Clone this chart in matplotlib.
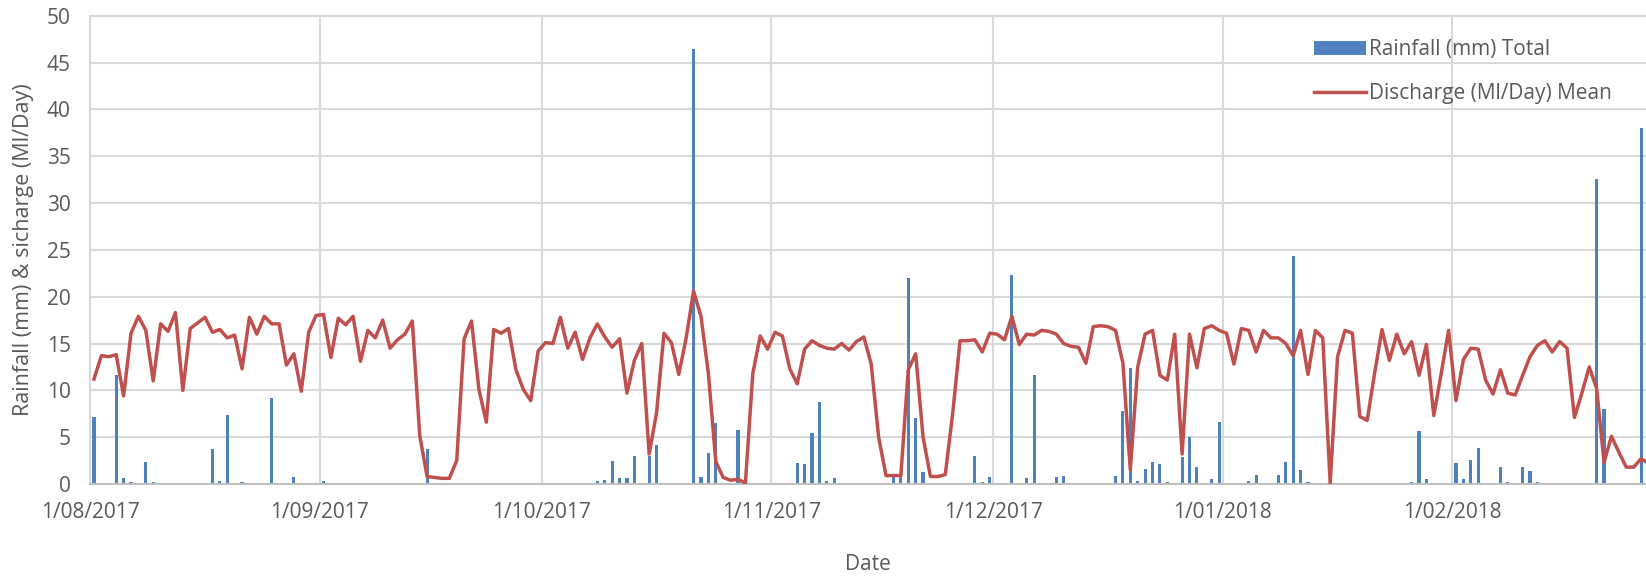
import matplotlib
matplotlib.use("Agg")
import matplotlib.pyplot as plt
import matplotlib.dates as mdates
import pandas as pd

# daily rainfall totals (mm), one list per month, Aug 2017 - Feb 2018
rain_aug = [7.2, 0, 0, 11.6, 0.6, 0.2, 0, 2.4, 0.2, 0, 0, 0, 0, 0, 0, 0,
            3.7, 0.3, 7.4, 0, 0.2, 0, 0, 0, 9.2, 0, 0, 0.7, 0, 0, 0]
rain_sep = [0.3, 0, 0, 0, 0, 0, 0, 0, 0, 0, 0, 0, 0, 0, 3.7,
            0, 0, 0, 0, 0, 0, 0, 0, 0, 0, 0, 0, 0, 0, 0]
rain_oct = [0, 0, 0, 0, 0, 0, 0, 0.3, 0.4, 2.5, 0.6, 0.6, 3.0, 0, 3.0, 4.2,
            0, 0, 0, 0, 46.4, 0.7, 3.3, 6.5, 0, 0, 5.8, 0, 0, 0, 0]
rain_nov = [0, 0, 0, 2.2, 2.1, 5.4, 8.8, 0.3, 0.6, 0, 0, 0, 0, 0, 0, 0,
            0.8, 0.8, 22.0, 7.0, 1.3, 0, 0, 0, 0, 0, 0, 3.0, 0.2, 0.7]
rain_dec = [0, 0, 22.3, 0, 0.6, 11.6, 0, 0, 0.7, 0.9, 0, 0, 0, 0, 0, 0,
            0.9, 7.8, 12.4, 0.3, 1.6, 2.4, 2.1, 0.2, 0, 2.9, 5.0, 1.8, 0, 0.5, 6.6]
rain_jan = [0, 0, 0, 0.3, 1.0, 0, 0, 1.0, 2.4, 24.3, 1.5, 0.2,
            0, 0, 0, 0, 0, 0, 0, 0, 0, 0, 0, 0, 0.1, 0.2, 5.7, 0.5, 0, 0, 0]
rain_feb = [2.2, 0.5, 2.6, 3.8, 0, 0, 1.8, 0.2, 0, 1.8, 1.4, 0.2,
            0, 0, 0, 0, 0, 0, 0, 32.6, 8.0, 0, 0, 0, 0, 38.0, 0]

# daily mean discharge (Ml/Day)
flow_aug = [11.2, 13.7, 13.6, 13.8, 9.4, 16.1, 17.9, 16.4, 11.0, 17.1, 16.3,
            18.3, 10.0, 16.6, 17.2, 17.8, 16.2, 16.5, 15.6, 15.9, 12.3, 17.8,
            16.0, 17.9, 17.1, 17.1, 12.7, 13.9, 9.9, 16.2, 18.0]
flow_sep = [18.1, 13.5, 17.7, 17.0, 17.9, 13.1, 16.4, 15.6, 17.5, 14.5, 15.4,
            16.0, 17.4, 5.2, 0.8, 0.7, 0.6, 0.6, 2.5, 15.5, 17.4, 10.1, 6.6,
            16.5, 16.1, 16.6, 12.2, 10.1, 8.9, 14.2]
flow_oct = [15.1, 15.0, 17.8, 14.5, 16.2, 13.3, 15.6, 17.1, 15.7, 14.6, 15.5,
            9.7, 13.2, 15.0, 3.2, 7.6, 16.1, 15.1, 11.7, 15.6, 20.6, 17.9,
            11.8, 2.4, 0.7, 0.4, 0.5, 0.1, 11.8, 15.8, 14.4]
flow_nov = [16.2, 15.8, 12.3, 10.7, 14.4, 15.3, 14.8, 14.5, 14.4, 15.0, 14.3,
            15.2, 15.7, 12.8, 5.0, 0.9, 0.9, 0.9, 12.2, 13.9, 5.0, 0.8, 0.8,
            1.0, 7.5, 15.3, 15.3, 15.4, 14.1, 16.1]
flow_dec = [16.0, 15.4, 17.9, 14.9, 16.0, 15.9, 16.4, 16.3, 16.0, 15.0, 14.7,
            14.6, 12.9, 16.8, 16.9, 16.8, 16.4, 12.9, 1.5, 12.5, 16.0, 16.4,
            11.6, 11.1, 16.0, 3.2, 16.0, 12.4, 16.6, 16.9, 16.4]
flow_jan = [16.1, 12.8, 16.6, 16.4, 14.1, 16.4, 15.6, 15.6, 15.0, 13.7, 16.4,
            11.7, 16.4, 15.6, 0.1, 13.6, 16.4, 16.1, 7.2, 6.8, 11.8, 16.5,
            13.2, 16.0, 13.9, 15.2, 11.6, 14.9, 7.3, 11.8, 16.4]
flow_feb = [8.9, 13.3, 14.5, 14.4, 11.1, 9.6, 12.2, 9.7, 9.5, 11.6, 13.6,
            14.8, 15.3, 14.1, 15.2, 14.5, 7.1, 9.7, 12.5, 10.2, 2.3, 5.1, 3.4,
            1.8, 1.8, 2.7, 2.2]

rain = rain_aug + rain_sep + rain_oct + rain_nov + rain_dec + rain_jan + rain_feb
flow = flow_aug + flow_sep + flow_oct + flow_nov + flow_dec + flow_jan + flow_feb
dates = pd.date_range("2017-08-01", periods=len(flow), freq="D")
# excel puts each day in the middle of its slot
xpos = dates + pd.Timedelta(hours=12)

grey_txt = "#595959"
grid_col = "#D9D9D9"
fs = 15
plt.rcParams["font.family"] = ["Open Sans", "DejaVu Sans"]

fig = plt.figure(figsize=(16.46, 5.78), dpi=100)
ax = fig.add_axes([90.3 / 1646, 94 / 578, 1 - 90.3 / 1646, 468.3 / 578])

bars = ax.bar(xpos, rain, width=0.42, color="#4F81BD", label="Rainfall (mm) Total", zorder=2)
line, = ax.plot(xpos, flow, color="#C0504D", lw=2.5, label="Discharge (Ml/Day) Mean", zorder=3)

ax.set_ylim(0, 50)
ax.set_yticks(range(0, 51, 5))
ax.set_xlim(pd.Timestamp("2017-08-01"), pd.Timestamp("2018-02-27 04:00"))
ax.xaxis.set_major_locator(mdates.MonthLocator())
ax.xaxis.set_major_formatter(
    plt.FuncFormatter(lambda v, p: "{d.day}/{d.month:02d}/{d.year}".format(d=mdates.num2date(v))))

ax.grid(True, color=grid_col, lw=1.5, zorder=0)
ax.set_axisbelow(True)
ax.spines["right"].set_visible(False)
for s in ["left", "top"]:
    ax.spines[s].set_color(grid_col)
    ax.spines[s].set_linewidth(1.5)
ax.spines["bottom"].set_color("#BFBFBF")
ax.spines["bottom"].set_linewidth(1.5)

ax.tick_params(axis="both", length=0, labelsize=fs, colors=grey_txt)
ax.tick_params(axis="y", pad=14)
ax.tick_params(axis="x", pad=13)

ax.set_ylabel("Rainfall (mm) & sicharge (Ml/Day)", fontsize=fs + 0.5, color=grey_txt, labelpad=9)
ax.set_xlabel("Date", fontsize=fs, color=grey_txt, labelpad=22)

leg = ax.legend([bars, line], ["Rainfall (mm) Total", "Discharge (Ml/Day) Mean"],
                loc="upper left", bbox_to_anchor=(0.78, 0.972), frameon=False,
                fontsize=fs, handlelength=2.5, handletextpad=0.15, labelspacing=1.1,
                borderpad=0)
for t in leg.get_texts():
    t.set_color(grey_txt)

fig.savefig("out.png", dpi=100)
